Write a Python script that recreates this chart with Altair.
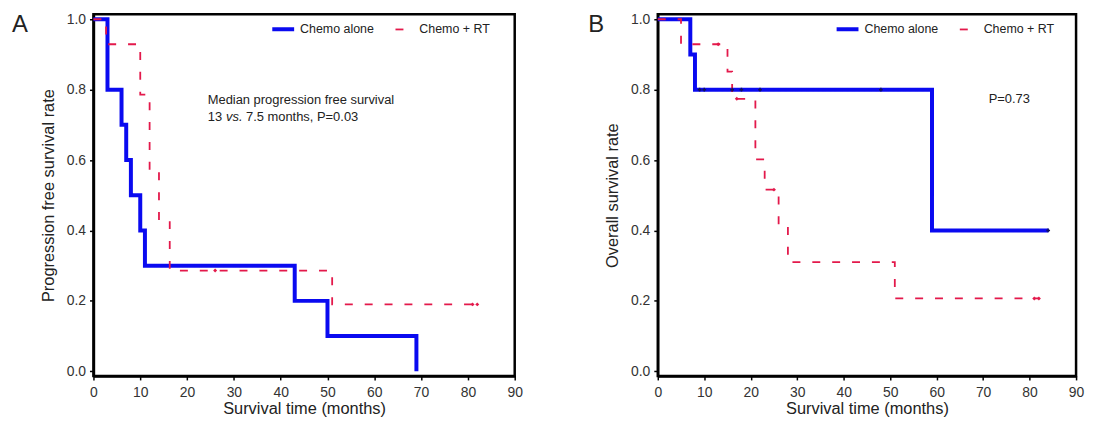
import altair as alt
import pandas as pd

FONT = "Liberation Sans"
SERIES = ["Chemo alone", "Chemo + RT"]
COLORS = ["#0a0af0", "#e3194b"]

# ---- Panel A: progression free survival (Kaplan-Meier steps)
pfs_alone_t = [0, 3, 6, 7, 8, 10, 11, 43, 50, 69]
pfs_alone_s = [1.0, 0.8, 0.7, 0.6, 0.5, 0.4, 0.3, 0.2, 0.1, 0.0]
pfs_rt_t = [0, 2.7, 10, 12, 14, 16.3, 51, 82]
pfs_rt_s = [1.0, 0.929, 0.786, 0.571, 0.429, 0.286, 0.190, 0.190]
pfs_alone_cens_t = []
pfs_alone_cens_s = []
pfs_rt_cens_t = [26, 81, 82]
pfs_rt_cens_s = [0.286, 0.190, 0.190]

# ---- Panel B: overall survival
os_alone_t = [0, 7, 8, 59, 84]
os_alone_s = [1.0, 0.9, 0.8, 0.4, 0.4]
os_rt_t = [0, 5, 15, 16, 21, 23, 26, 28, 51, 82]
os_rt_s = [1.0, 0.929, 0.851, 0.774, 0.602, 0.516, 0.413, 0.310, 0.207, 0.207]
os_alone_cens_t = [9, 10, 16, 18, 22, 48, 84]
os_alone_cens_s = [0.8, 0.8, 0.8, 0.8, 0.8, 0.8, 0.4]
os_rt_cens_t = [13, 17, 25, 81, 82]
os_rt_cens_s = [0.929, 0.774, 0.516, 0.207, 0.207]

x_ticks = [0, 10, 20, 30, 40, 50, 60, 70, 80, 90]
y_ticks = [0.0, 0.2, 0.4, 0.6, 0.8, 1.0]

H = 364


def legend():
    return alt.Legend(
        orient="none", legendX=178, legendY=2, direction="horizontal", title=None,
        symbolType="stroke", symbolSize=484, labelFontSize=12.5, labelFont=FONT,
        labelColor="#222222", labelOffset=4, columnPadding=14, padding=0,
        symbolDashOffset=17,
    )


def panel(letter, letter_dx, ytitle, alone_t, alone_s, rt_t, rt_s, ac_t, ac_s, rc_t, rc_s, notes, width):
    curves = pd.DataFrame({
        "time": alone_t + rt_t,
        "surv": alone_s + rt_s,
        "group": [SERIES[0]] * len(alone_t) + [SERIES[1]] * len(rt_t),
    })
    x = alt.X("time:Q", scale=alt.Scale(domain=[0, 90], nice=False, zero=False),
              axis=alt.Axis(values=x_ticks, title="Survival time (months)", format="d"))
    y = alt.Y("surv:Q", scale=alt.Scale(domain=[-0.0133, 1.0141], nice=False, zero=False),
              axis=alt.Axis(values=y_ticks, title=ytitle, format=".1f"))
    lines = alt.Chart(curves).mark_line(interpolate="step-after").encode(
        x=x, y=y,
        color=alt.Color("group:N", scale=alt.Scale(domain=SERIES, range=COLORS), legend=legend()),
        strokeDash=alt.StrokeDash("group:N", scale=alt.Scale(domain=SERIES, range=[[1, 0], [8, 12]]),
                                  legend=legend()),
        strokeWidth=alt.StrokeWidth("group:N", scale=alt.Scale(domain=SERIES, range=[4, 1.8]),
                                    legend=legend()),
    )
    layers = [lines]
    if ac_t:
        cA = pd.DataFrame({"time": ac_t, "surv": ac_s})
        layers.append(alt.Chart(cA).mark_point(shape="cross", filled=True, size=14,
                                               color="#101060", opacity=1).encode(x="time:Q", y="surv:Q"))
    if rc_t:
        cR = pd.DataFrame({"time": rc_t, "surv": rc_s})
        layers.append(alt.Chart(cR).mark_point(shape="diamond", filled=True, size=16,
                                               color=COLORS[1], opacity=1).encode(x="time:Q", y="surv:Q"))
    lab = pd.DataFrame({"t": [letter]})
    layers.append(alt.Chart(lab).mark_text(fontSize=24, font=FONT, align="left", baseline="top",
                                           color="#222222").encode(
        text="t:N", x=alt.value(letter_dx), y=alt.value(-1)))
    for (txt, px, py, style) in notes:
        d = pd.DataFrame({"t": [txt]})
        layers.append(alt.Chart(d).mark_text(fontSize=13, font=FONT, align="left", baseline="middle",
                                             color="#222222", fontStyle=style).encode(
            text="t:N", x=alt.value(px), y=alt.value(py)))
    return alt.layer(*layers).properties(width=width, height=H)


notesA = [
    ("Median progression free survival", 115, 86, "normal"),
    ("13", 115, 103, "normal"),
    ("vs.", 133.5, 103, "italic"),
    ("7.5 months, P=0.03", 153.5, 103, "normal"),
]
notesB = [("P=0.73", 333, 85, "normal")]

A = panel("A", -82, "Progression free survival rate", pfs_alone_t, pfs_alone_s, pfs_rt_t, pfs_rt_s,
          pfs_alone_cens_t, pfs_alone_cens_s, pfs_rt_cens_t, pfs_rt_cens_s, notesA, 424)
B = panel("B", -70, "Overall survival rate", os_alone_t, os_alone_s, os_rt_t, os_rt_s,
          os_alone_cens_t, os_alone_cens_s, os_rt_cens_t, os_rt_cens_s, notesB, 421)

chart = alt.hconcat(A, B, spacing=62).resolve_scale(
    color="independent", strokeDash="independent", strokeWidth="independent"
).properties(
    padding={"left": 2, "top": 0, "right": 0, "bottom": 0}
).configure_view(
    stroke="black", strokeWidth=2.5
).configure_axis(
    grid=False, domainColor="black", domainWidth=2.5, tickColor="black", tickWidth=1.5,
    tickSize=4, labelFont=FONT, labelFontSize=14, labelColor="#333333", labelPadding=4,
    titleFont=FONT, titleFontSize=16.5, titleFontWeight="normal", titleColor="#222222",
).configure_axisX(titlePadding=1, labelPadding=6, labelFlush=False).configure_axisY(titlePadding=10)

chart.save("out.html", embed_options={"renderer": "svg", "actions": False})
